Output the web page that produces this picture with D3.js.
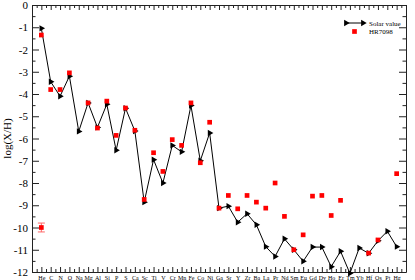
<!DOCTYPE html>
<html lang="en">
<head>
<meta charset="utf-8">
<style>
  body { margin: 0; background: #fff; }
  svg { display: block; }
  text { font-family: "Liberation Serif", "DejaVu Serif", serif; fill: #000; }
  .axis path, .axis line { stroke: #222; }
</style>
<script src="https://cdnjs.cloudflare.com/ajax/libs/d3/7.8.5/d3.min.js"></script>
</head>
<body>
<script>

var elements = ["He","C","N","O","Na","Mg","Al","Si","P","S","Ca","Sc","Ti","V","Cr","Mn","Fe","Co","Ni","Ga",
                "Sr","Y","Zr","Ba","La","Pr","Nd","Sm","Eu","Gd","Dy","Ho","Er","Tm","Yb","Hf","Os","Pt","Hg"];

var solar = [-1.05,-3.45,-4.1,-3.2,-5.68,-4.4,-5.5,-4.46,-6.53,-4.64,-5.66,-8.86,-6.95,-8.0,-6.31,-6.6,-4.52,-7.0,-5.75,-9.13,
             -9.04,-9.76,-9.38,-9.88,-10.86,-11.3,-10.51,-11.0,-11.52,-10.88,-10.88,-11.76,-11.07,-12.06,-10.92,-11.16,-10.6,-10.17,-10.86];

var hr7098 = [-1.35,-3.8,-3.8,-3.05,null,-4.4,-5.53,-4.32,-5.86,-4.63,-5.63,-8.74,-6.64,-7.48,-6.05,-6.31,-4.4,-7.09,-5.27,-9.13,
              -8.56,-9.16,-8.56,-8.86,-9.13,-8.0,-9.5,-11.0,-10.33,-8.59,-8.56,-9.46,-8.78,null,null,-11.15,-10.56,null,-7.58];

// typical error shown at He position
var errPoint = { pos: 1, value: -10.0, err: 0.2 };

var yTicks = d3.range(0, -13, -1);

var width = 415, height = 280;
var margin = { left: 32, right: 9, top: 5, bottom: 8 };

var svg = d3.select("body").append("svg")
  .attr("width", width)
  .attr("height", height);

var x = d3.scaleLinear().domain([0, 40]).range([margin.left, width - margin.right]);
var y = d3.scaleLinear().domain([0, -12]).range([margin.top, height - margin.bottom]);

var halves = d3.range(0.5, 40, 1);
var yHalves = d3.range(-0.5, -12, -1);

// minor ticks
svg.append("g").attr("class", "axis")
  .attr("transform", "translate(0," + y(-12) + ")")
  .call(d3.axisBottom(x).tickValues(halves).tickSize(-3).tickFormat(""))
  .call(function(g){ g.select(".domain").remove(); });
svg.append("g").attr("class", "axis")
  .attr("transform", "translate(0," + y(0) + ")")
  .call(d3.axisTop(x).tickValues(halves).tickSize(-3).tickFormat(""))
  .call(function(g){ g.select(".domain").remove(); });
svg.append("g").attr("class", "axis")
  .attr("transform", "translate(" + x(0) + ",0)")
  .call(d3.axisLeft(y).tickValues(yHalves).tickSize(-3.5).tickFormat(""))
  .call(function(g){ g.select(".domain").remove(); });
svg.append("g").attr("class", "axis")
  .attr("transform", "translate(" + x(40) + ",0)")
  .call(d3.axisRight(y).tickValues(yHalves).tickSize(-3.5).tickFormat(""))
  .call(function(g){ g.select(".domain").remove(); });

// major ticks
var xAxis = svg.append("g").attr("class", "axis")
  .attr("transform", "translate(0," + y(-12) + ")")
  .call(d3.axisBottom(x).tickValues(d3.range(0, 41)).tickSize(-5).tickSizeOuter(0).tickPadding(4)
    .tickFormat(function(d){ return elements[d - 1] || ""; }));
xAxis.selectAll("text").style("font-size", "6px");

svg.append("g").attr("class", "axis")
  .attr("transform", "translate(0," + y(0) + ")")
  .call(d3.axisTop(x).tickValues(d3.range(0, 41)).tickSize(-5).tickSizeOuter(0).tickFormat(""));

var yAxis = svg.append("g").attr("class", "axis")
  .attr("transform", "translate(" + x(0) + ",0)")
  .call(d3.axisLeft(y).tickValues(yTicks).tickSize(-7).tickSizeOuter(0).tickPadding(4)
    .tickFormat(function(d){ return d === 0 ? "0" : "-" + Math.abs(d); }));
yAxis.selectAll("text").style("font-size", "11px");

svg.append("g").attr("class", "axis")
  .attr("transform", "translate(" + x(40) + ",0)")
  .call(d3.axisRight(y).tickValues(yTicks).tickSize(-7).tickSizeOuter(0).tickFormat(""));

svg.append("text")
  .attr("transform", "translate(11," + ((y(0) + y(-12)) / 2) + ") rotate(-90)")
  .attr("text-anchor", "middle")
  .style("font-size", "11px")
  .text("log(X/H)");

// solar line + triangles
var solarData = solar.map(function(v, i){ return { pos: i + 1, value: v }; });

svg.append("path")
  .datum(solarData)
  .attr("fill", "none")
  .attr("stroke", "#000")
  .attr("stroke-width", 1)
  .attr("d", d3.line().x(function(d){ return x(d.pos); }).y(function(d){ return y(d.value); }));

var tri = d3.symbol().type(d3.symbolTriangle).size(18);

svg.selectAll(".sol")
  .data(solarData)
  .enter().append("path")
  .attr("class", "sol")
  .attr("d", tri)
  .attr("fill", "#000")
  .attr("transform", function(d){ return "translate(" + x(d.pos) + "," + y(d.value) + ") rotate(90)"; });

// HR7098 squares
var starData = hr7098.map(function(v, i){ return { pos: i + 1, value: v }; })
  .filter(function(d){ return d.value !== null; });

var sq = d3.symbol().type(d3.symbolSquare).size(22);

svg.selectAll(".hr")
  .data(starData)
  .enter().append("path")
  .attr("class", "hr")
  .attr("d", sq)
  .attr("fill", "#f00")
  .attr("transform", function(d){ return "translate(" + x(d.pos) + "," + y(d.value) + ")"; });

// error bar example
var eb = svg.append("g").attr("stroke", "#f66").attr("stroke-width", 1);
eb.append("line")
  .attr("x1", x(errPoint.pos)).attr("x2", x(errPoint.pos))
  .attr("y1", y(errPoint.value + errPoint.err)).attr("y2", y(errPoint.value - errPoint.err));
[errPoint.value + errPoint.err, errPoint.value - errPoint.err].forEach(function(v){
  eb.append("line")
    .attr("x1", x(errPoint.pos) - 3.5).attr("x2", x(errPoint.pos) + 3.5)
    .attr("y1", y(v)).attr("y2", y(v));
});
svg.append("path")
  .attr("d", sq)
  .attr("fill", "#f00")
  .attr("transform", "translate(" + x(errPoint.pos) + "," + y(errPoint.value) + ")");

// legend
var lg = svg.append("g").attr("transform", "translate(345,23)");
lg.append("line").attr("x1", 0).attr("x2", 19).attr("y1", 0).attr("y2", 0).attr("stroke", "#000");
lg.append("path").attr("d", tri).attr("fill", "#000").attr("transform", "translate(1,0) rotate(90)");
lg.append("path").attr("d", tri).attr("fill", "#000").attr("transform", "translate(18,0) rotate(90)");
lg.append("text").attr("x", 24).attr("y", 2.5).style("font-size", "7px").text("Solar value");
lg.append("path").attr("d", sq).attr("fill", "#f00").attr("transform", "translate(9.5,8.5)");
lg.append("text").attr("x", 24).attr("y", 11).style("font-size", "7px").text("HR7098");

</script>
</body>
</html>
